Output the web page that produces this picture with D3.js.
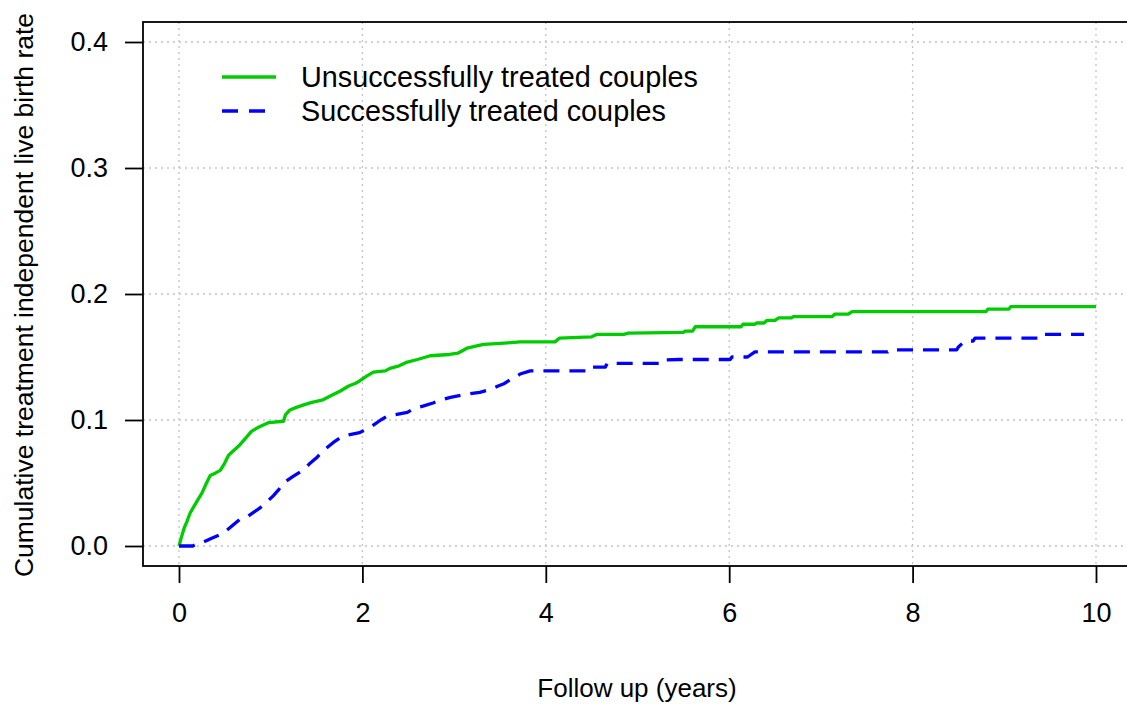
<!DOCTYPE html>
<html>
<head>
<meta charset="utf-8">
<script src="https://cdn.jsdelivr.net/npm/d3@7"></script>
<style>
  html, body { margin: 0; padding: 0; background: #fff; }
  svg { display: block; }
  text { font-family: "Liberation Sans", Arial, sans-serif; fill: #000; }
</style>
</head>
<body>
<svg id="chart" width="1127" height="704"></svg>
<script>
// ---- data (vertices of the curves) ----
const xTicks = [0, 2, 4, 6, 8, 10];
const yTicks = [0.0, 0.1, 0.2, 0.3, 0.4];
const yTickLabels = ["0.0", "0.1", "0.2", "0.3", "0.4"];
const seriesNames = ["Unsuccessfully treated couples", "Successfully treated couples"];
const xTitle = "Follow up (years)";
const yTitle = "Cumulative treatment independent live birth rate";

const unsuccessTime = [0, 0.03, 0.06, 0.09, 0.12, 0.16, 0.2, 0.25, 0.3, 0.34, 0.4, 0.45, 0.5, 0.54, 0.6, 0.66, 0.72, 0.79, 0.86, 0.92, 0.98, 1.14, 1.16, 1.21, 1.28, 1.36, 1.45, 1.57, 1.65, 1.76, 1.85, 1.92, 1.97, 2.05, 2.12, 2.25, 2.3, 2.4, 2.49, 2.6, 2.74, 2.95, 3.04, 3.14, 3.32, 3.55, 3.72, 4.1, 4.15, 4.5, 4.56, 4.85, 4.9, 5.5, 5.52, 5.6, 5.63, 6.13, 6.15, 6.28, 6.3, 6.38, 6.41, 6.5, 6.54, 6.68, 6.7, 7.12, 7.15, 7.3, 7.34, 8.8, 8.82, 9.05, 9.07, 10];
const unsuccessRate = [0, 0.008, 0.015, 0.02, 0.026, 0.031, 0.036, 0.042, 0.05, 0.056, 0.058, 0.06, 0.066, 0.072, 0.076, 0.08, 0.085, 0.091, 0.094, 0.096, 0.098, 0.099, 0.104, 0.108, 0.11, 0.112, 0.114, 0.116, 0.119, 0.123, 0.127, 0.129, 0.131, 0.135, 0.138, 0.139, 0.141, 0.143, 0.146, 0.148, 0.151, 0.152, 0.153, 0.157, 0.16, 0.161, 0.162, 0.162, 0.165, 0.166, 0.168, 0.168, 0.169, 0.1696, 0.1706, 0.1706, 0.174, 0.174, 0.176, 0.176, 0.177, 0.177, 0.179, 0.179, 0.181, 0.181, 0.182, 0.182, 0.184, 0.184, 0.186, 0.186, 0.188, 0.188, 0.19, 0.19];

const successTime = [0, 0.15, 0.2, 0.26, 0.35, 0.48, 0.58, 0.66, 0.74, 0.82, 0.88, 0.96, 1.03, 1.09, 1.14, 1.24, 1.35, 1.42, 1.5, 1.58, 1.68, 1.76, 1.83, 1.97, 2.05, 2.12, 2.2, 2.27, 2.34, 2.49, 2.56, 2.66, 2.77, 2.86, 2.96, 3.1, 3.28, 3.39, 3.48, 3.55, 3.61, 3.67, 3.72, 3.83, 4.46, 4.48, 4.65, 4.67, 5.28, 5.3, 5.45, 6.01, 6.03, 6.2, 6.28, 7.73, 7.75, 8.48, 8.5, 8.57, 8.66, 8.68, 9.39, 9.41, 9.87];
const successRate = [0, 0, 0.002, 0.003, 0.006, 0.01, 0.016, 0.021, 0.023, 0.027, 0.03, 0.035, 0.04, 0.045, 0.05, 0.055, 0.06, 0.065, 0.07, 0.076, 0.082, 0.086, 0.088, 0.09, 0.093, 0.096, 0.1, 0.103, 0.104, 0.106, 0.109, 0.111, 0.1135, 0.116, 0.118, 0.12, 0.122, 0.124, 0.127, 0.129, 0.132, 0.134, 0.1365, 0.139, 0.139, 0.142, 0.142, 0.145, 0.145, 0.1476, 0.148, 0.148, 0.15, 0.15, 0.154, 0.154, 0.1556, 0.1556, 0.158, 0.1627, 0.1627, 0.165, 0.165, 0.168, 0.168];

// ---- layout ----
const svg = d3.select("#chart");
const x = d3.scaleLinear().domain([0, 10]).range([179, 1096]);
const y = d3.scaleLinear().domain([0, 0.4]).range([546, 42]);
const box = { left: 143, top: 22, right: 1140, bottom: 566 };

// grid
const grid = svg.append("g").attr("stroke", "#c4c4c4").attr("stroke-width", 1.3).attr("stroke-dasharray", "2,4");
grid.selectAll("line.v").data(xTicks).join("line")
  .attr("x1", d => x(d)).attr("x2", d => x(d)).attr("y1", box.top).attr("y2", box.bottom);
grid.selectAll("line.h").data(yTicks).join("line")
  .attr("y1", d => y(d)).attr("y2", d => y(d)).attr("x1", box.left).attr("x2", box.right);

// box
svg.append("rect").attr("x", box.left).attr("y", box.top)
  .attr("width", box.right - box.left).attr("height", box.bottom - box.top)
  .attr("fill", "none").attr("stroke", "#000").attr("stroke-width", 1.8);

// x axis
const xAxis = d3.axisBottom(x).tickValues(xTicks).tickSize(17).tickPadding(20).tickFormat(d3.format("d"));
const gx = svg.append("g").attr("transform", `translate(0,${box.bottom})`).call(xAxis);
gx.select(".domain").remove();
gx.selectAll(".tick line").attr("stroke", "#000").attr("stroke-width", 1.8);
gx.selectAll(".tick text").attr("font-size", "27px").attr("font-family", "Liberation Sans, Arial, sans-serif").attr("fill", "#000");

// y axis
const yAxis = d3.axisLeft(y).tickValues(yTicks).tickSize(18).tickPadding(17).tickFormat((d, i) => yTickLabels[i]);
const gy = svg.append("g").attr("transform", `translate(${box.left},0)`).call(yAxis);
gy.select(".domain").remove();
gy.selectAll(".tick line").attr("stroke", "#000").attr("stroke-width", 1.8);
gy.selectAll(".tick text").attr("font-size", "27px").attr("font-family", "Liberation Sans, Arial, sans-serif").attr("fill", "#000");

// axis titles
svg.append("text").attr("x", 637).attr("y", 697).attr("text-anchor", "middle")
  .attr("font-size", "26px").text(xTitle);
svg.append("text").attr("transform", "translate(33,295) rotate(-90)").attr("text-anchor", "middle")
  .attr("font-size", "26.5px").text(yTitle);

// curves
const line = d3.line().x(d => x(d[0])).y(d => y(d[1])).curve(d3.curveLinear);
const unsuccess = unsuccessTime.map((t, i) => [t, unsuccessRate[i]]);
const success = successTime.map((t, i) => [t, successRate[i]]);

svg.append("path").datum(unsuccess).attr("d", line)
  .attr("fill", "none").attr("stroke", "#00CD00").attr("stroke-width", 3.3)
  .attr("stroke-linejoin", "round");
svg.append("path").datum(success).attr("d", line)
  .attr("fill", "none").attr("stroke", "#0000FF").attr("stroke-width", 3.3)
  .attr("stroke-dasharray", "16,10").attr("stroke-linejoin", "round");

// legend
const legend = [
  { name: seriesNames[0], color: "#00CD00", dash: null, y: 77 },
  { name: seriesNames[1], color: "#0000FF", dash: "16,11", y: 111 }
];
const lg = svg.append("g");
legend.forEach(l => {
  const ln = lg.append("line").attr("x1", 222).attr("x2", 276).attr("y1", l.y).attr("y2", l.y)
    .attr("stroke", l.color).attr("stroke-width", 3.3);
  if (l.dash) ln.attr("stroke-dasharray", l.dash);
  lg.append("text").attr("x", 301).attr("y", l.y + 10).attr("font-size", "28.8px").text(l.name);
});
</script>
</body>
</html>
